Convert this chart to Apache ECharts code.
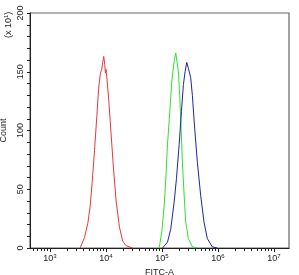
<!DOCTYPE html>
<html lang="en">

<head>
    <meta charset="UTF-8">
    <title>FITC-A histogram</title>
    <script src="https://cdn.jsdelivr.net/npm/echarts@6/dist/echarts.min.js"></script>
    <style>
        html, body { margin: 0; padding: 0; background: #fff; }
        #chart { width: 299px; height: 275px; }
    </style>
</head>

<body>
    <div id="chart"></div>

    <script>
        // 读图得到的数据: 荧光强度 (FITC-A) 与计数 (x10)
        var redX = [3460, 4140, 4740, 5200, 5650, 6240, 6860, 7430, 7960, 8400, 8730, 9120, 9510, 9770,
            10020, 10450, 11190, 12300, 13550, 15100, 17340, 19860, 22700, 29900];
        var redY = [0, 9, 21, 35, 55, 83, 112, 137, 149, 152, 158, 163, 156, 149,
            152, 143, 126, 98, 69, 41, 18, 6, 2, 0];

        var greenX = [89100, 99100, 109400, 117000, 125300, 137700, 149600, 164800, 175800, 186200,
            196300, 207000, 219300, 231200, 248300, 264900, 295800, 348300, 427600];
        var greenY = [0, 14, 36, 59, 88, 116, 142, 159, 166, 165,
            150, 130, 102, 73, 45, 22, 8, 1, 0];

        var blueX = [102100, 125300, 143200, 164800, 181100, 202300, 222300, 241000, 258200, 276100,
            295800, 325100, 348300, 382800, 427600, 489800, 562300, 644200, 790700, 970500];
        var blueY = [0, 5, 16, 39, 59, 88, 116, 139, 150, 158,
            153, 145, 130, 102, 73, 45, 22, 8, 1, 0];

        var majorTicks = [1e3, 1e4, 1e5, 1e6, 1e7];
        var minorTicks = [];
        for (var d = 100; d <= 1e7; d *= 10) {
            for (var m = 2; m <= 9; m++) minorTicks.push(m * d);
        }

        function pairs(xs, ys) {
            var out = [];
            for (var i = 0; i < xs.length; i++) out.push([xs[i], ys[i]]);
            return out;
        }

        var myChart = echarts.init(document.getElementById('chart'));
        var font = 'Liberation Sans, Arial, sans-serif';

        var option = {
            animation: false,
            grid: {
                left: 30, right: 10, top: 13, bottom: 27,
                outerBoundsMode: 'none',
                containLabel: false,
                show: true, borderColor: '#666', borderWidth: 1.2
            },
            xAxis: [{
                type: 'log',
                min: 440, max: 1.85e7,
                name: 'FITC-A',
                nameLocation: 'middle',
                nameGap: 17,
                nameTextStyle: { fontSize: 9, color: '#222', fontFamily: font },
                axisLine: { lineStyle: { color: '#222', width: 1 } },
                axisTick: { length: 4, customValues: majorTicks, lineStyle: { color: '#222' } },
                axisLabel: {
                    customValues: majorTicks,
                    margin: 5,
                    fontSize: 9, color: '#222', fontFamily: font,
                    formatter: function (v) {
                        return '10{s|' + Math.round(Math.log10(v)) + '}';
                    },
                    rich: { s: { fontSize: 6, padding: [0, 0, 5, 0], fontFamily: font, color: '#222' } }
                },
                splitLine: { show: false }
            }, {
                type: 'log',
                min: 440, max: 1.85e7,
                position: 'bottom',
                axisLine: { show: false },
                axisTick: { length: 3, customValues: minorTicks, lineStyle: { color: '#222' } },
                axisLabel: { show: false },
                splitLine: { show: false }
            }],
            yAxis: {
                type: 'value',
                min: 0, max: 200, interval: 50,
                name: 'Count',
                nameLocation: 'middle',
                nameGap: 18,
                nameTextStyle: { fontSize: 9, color: '#222', fontFamily: font },
                axisLine: { show: true, lineStyle: { color: '#222', width: 1 } },
                axisTick: { show: true, length: 3, lineStyle: { color: '#222' } },
                minorTick: { show: true, splitNumber: 5, length: 3, lineStyle: { color: '#222' } },
                axisLabel: { rotate: 90, margin: 5, fontSize: 9, color: '#222', fontFamily: font },
                splitLine: { show: false }
            },
            graphic: [{
                type: 'text',
                x: 3, y: 38,
                rotation: Math.PI / 2,
                style: {
                    text: '(x 10{s|1})',
                    fontSize: 9, fill: '#222', fontFamily: font,
                    rich: { s: { fontSize: 6, padding: [0, 0, 5, 0], fontFamily: font, fill: '#222' } }
                }
            }],
            series: [
                { type: 'line', data: pairs(redX, redY), symbol: 'none', lineStyle: { color: '#e8363c', width: 1 } },
                { type: 'line', data: pairs(greenX, greenY), symbol: 'none', lineStyle: { color: '#2ee02e', width: 1 } },
                { type: 'line', data: pairs(blueX, blueY), symbol: 'none', lineStyle: { color: '#23239e', width: 1 } }
            ]
        };
        myChart.setOption(option);
    </script>
</body>

</html>
